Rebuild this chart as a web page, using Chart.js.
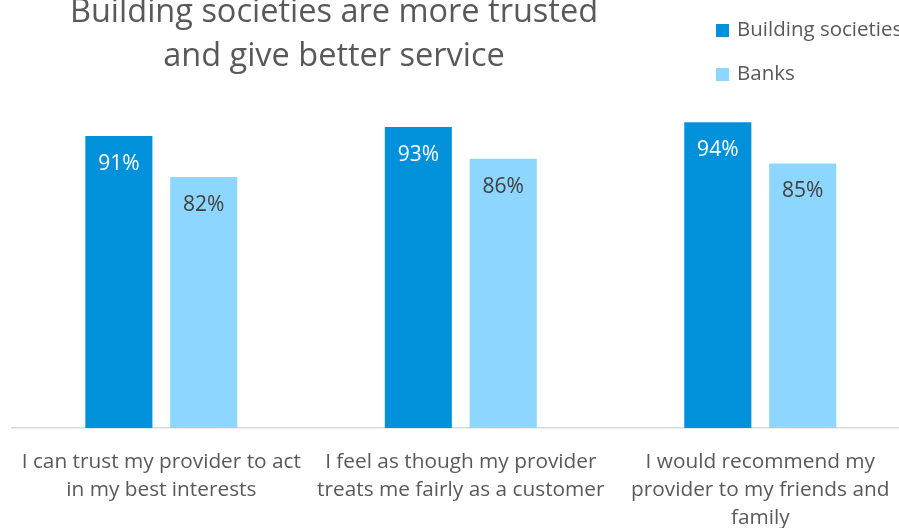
<!DOCTYPE html>
<html>
<head>
<meta charset="utf-8">
<script src="https://cdn.jsdelivr.net/npm/chart.js@4.4.0/dist/chart.umd.min.js"></script>
<style>
  html, body { margin: 0; padding: 0; background: #fff; }
  #wrap { position: relative; width: 899px; height: 528px; overflow: hidden; }
  #box { position: absolute; left: 0; top: 0; width: 910px; height: 528px; }
  #title {
    position: absolute; left: 0; width: 668px; top: -12px; text-align: center;
    font-family: "Open Sans", sans-serif; font-weight: 400; font-size: 32.5px;
    line-height: 44px; color: #595959; white-space: nowrap;
  }
  .leg {
    position: absolute; left: 716px; font-family: "Open Sans", sans-serif;
    font-size: 20.5px; color: #595959; white-space: nowrap; line-height: 20px;
  }
  .leg i { display: inline-block; width: 13px; height: 13px; margin-right: 8px; vertical-align: -1px; }
</style>
</head>
<body>
<div id="wrap">
  <div id="box"><canvas id="chart"></canvas></div>
  <div id="title">Building societies are more trusted<br>and give better service</div>
  <div id="legend"></div>
</div>
<script>
'use strict'

const categories = [
    ['I can trust my provider to act', 'in my best interests'],
    ['I feel as though my provider', 'treats me fairly as a customer'],
    ['I would recommend my', 'provider to my friends and', 'family']
]
const seriesNames = ['Building societies', 'Banks']
const buildingSocieties = [91, 93, 94]
const banks = [82, 86, 85]
const colors = ['#0091DA', '#8DD6FF']
const labelColors = ['#ffffff', '#404040']

// legend on top right, built from the series
const legend = document.getElementById('legend')
seriesNames.forEach((name, i) => {
    const d = document.createElement('div')
    d.className = 'leg'
    d.style.top = (18 + i * 44) + 'px'
    d.innerHTML = '<i style="background:' + colors[i] + '"></i>' + name
    legend.appendChild(d)
})

// value labels inside the bars
const valueLabels = {
    id: 'valueLabels',
    afterDatasetsDraw(chart) {
        const ctx = chart.ctx
        ctx.save()
        ctx.font = '21px "Open Sans", sans-serif'
        ctx.textAlign = 'center'
        ctx.textBaseline = 'middle'
        chart.data.datasets.forEach((ds, i) => {
            chart.getDatasetMeta(i).data.forEach((bar, j) => {
                ctx.fillStyle = labelColors[i]
                ctx.fillText(ds.data[j] + '%', bar.x, bar.y + 28)
            })
        })
        ctx.restore()
    }
}

new Chart(document.getElementById('chart'), {
    type: 'bar',
    data: {
        labels: categories,
        datasets: [
            { label: seriesNames[0], data: buildingSocieties, backgroundColor: colors[0] },
            { label: seriesNames[1], data: banks, backgroundColor: colors[1] }
        ]
    },
    options: {
        responsive: true,
        maintainAspectRatio: false,
        animation: false,
        layout: { padding: { top: 95, left: 10, right: 0, bottom: 0 } },
        datasets: { bar: { categoryPercentage: 0.567, barPercentage: 0.79 } },
        plugins: { legend: { display: false }, title: { display: false }, tooltip: { enabled: false } },
        scales: {
            x: {
                grid: { display: false, drawTicks: false },
                border: { display: true, color: '#d9d9d9', width: 1.5 },
                ticks: {
                    color: '#595959',
                    padding: 20,
                    maxRotation: 0,
                    autoSkip: false,
                    font: { family: '"Open Sans", sans-serif', size: 20.8, lineHeight: 1.34 }
                },
                afterFit: s => { s.height = 100 }
            },
            y: { display: false, min: 27, max: 100 }
        }
    },
    plugins: [valueLabels]
})
</script>
</body>
</html>
